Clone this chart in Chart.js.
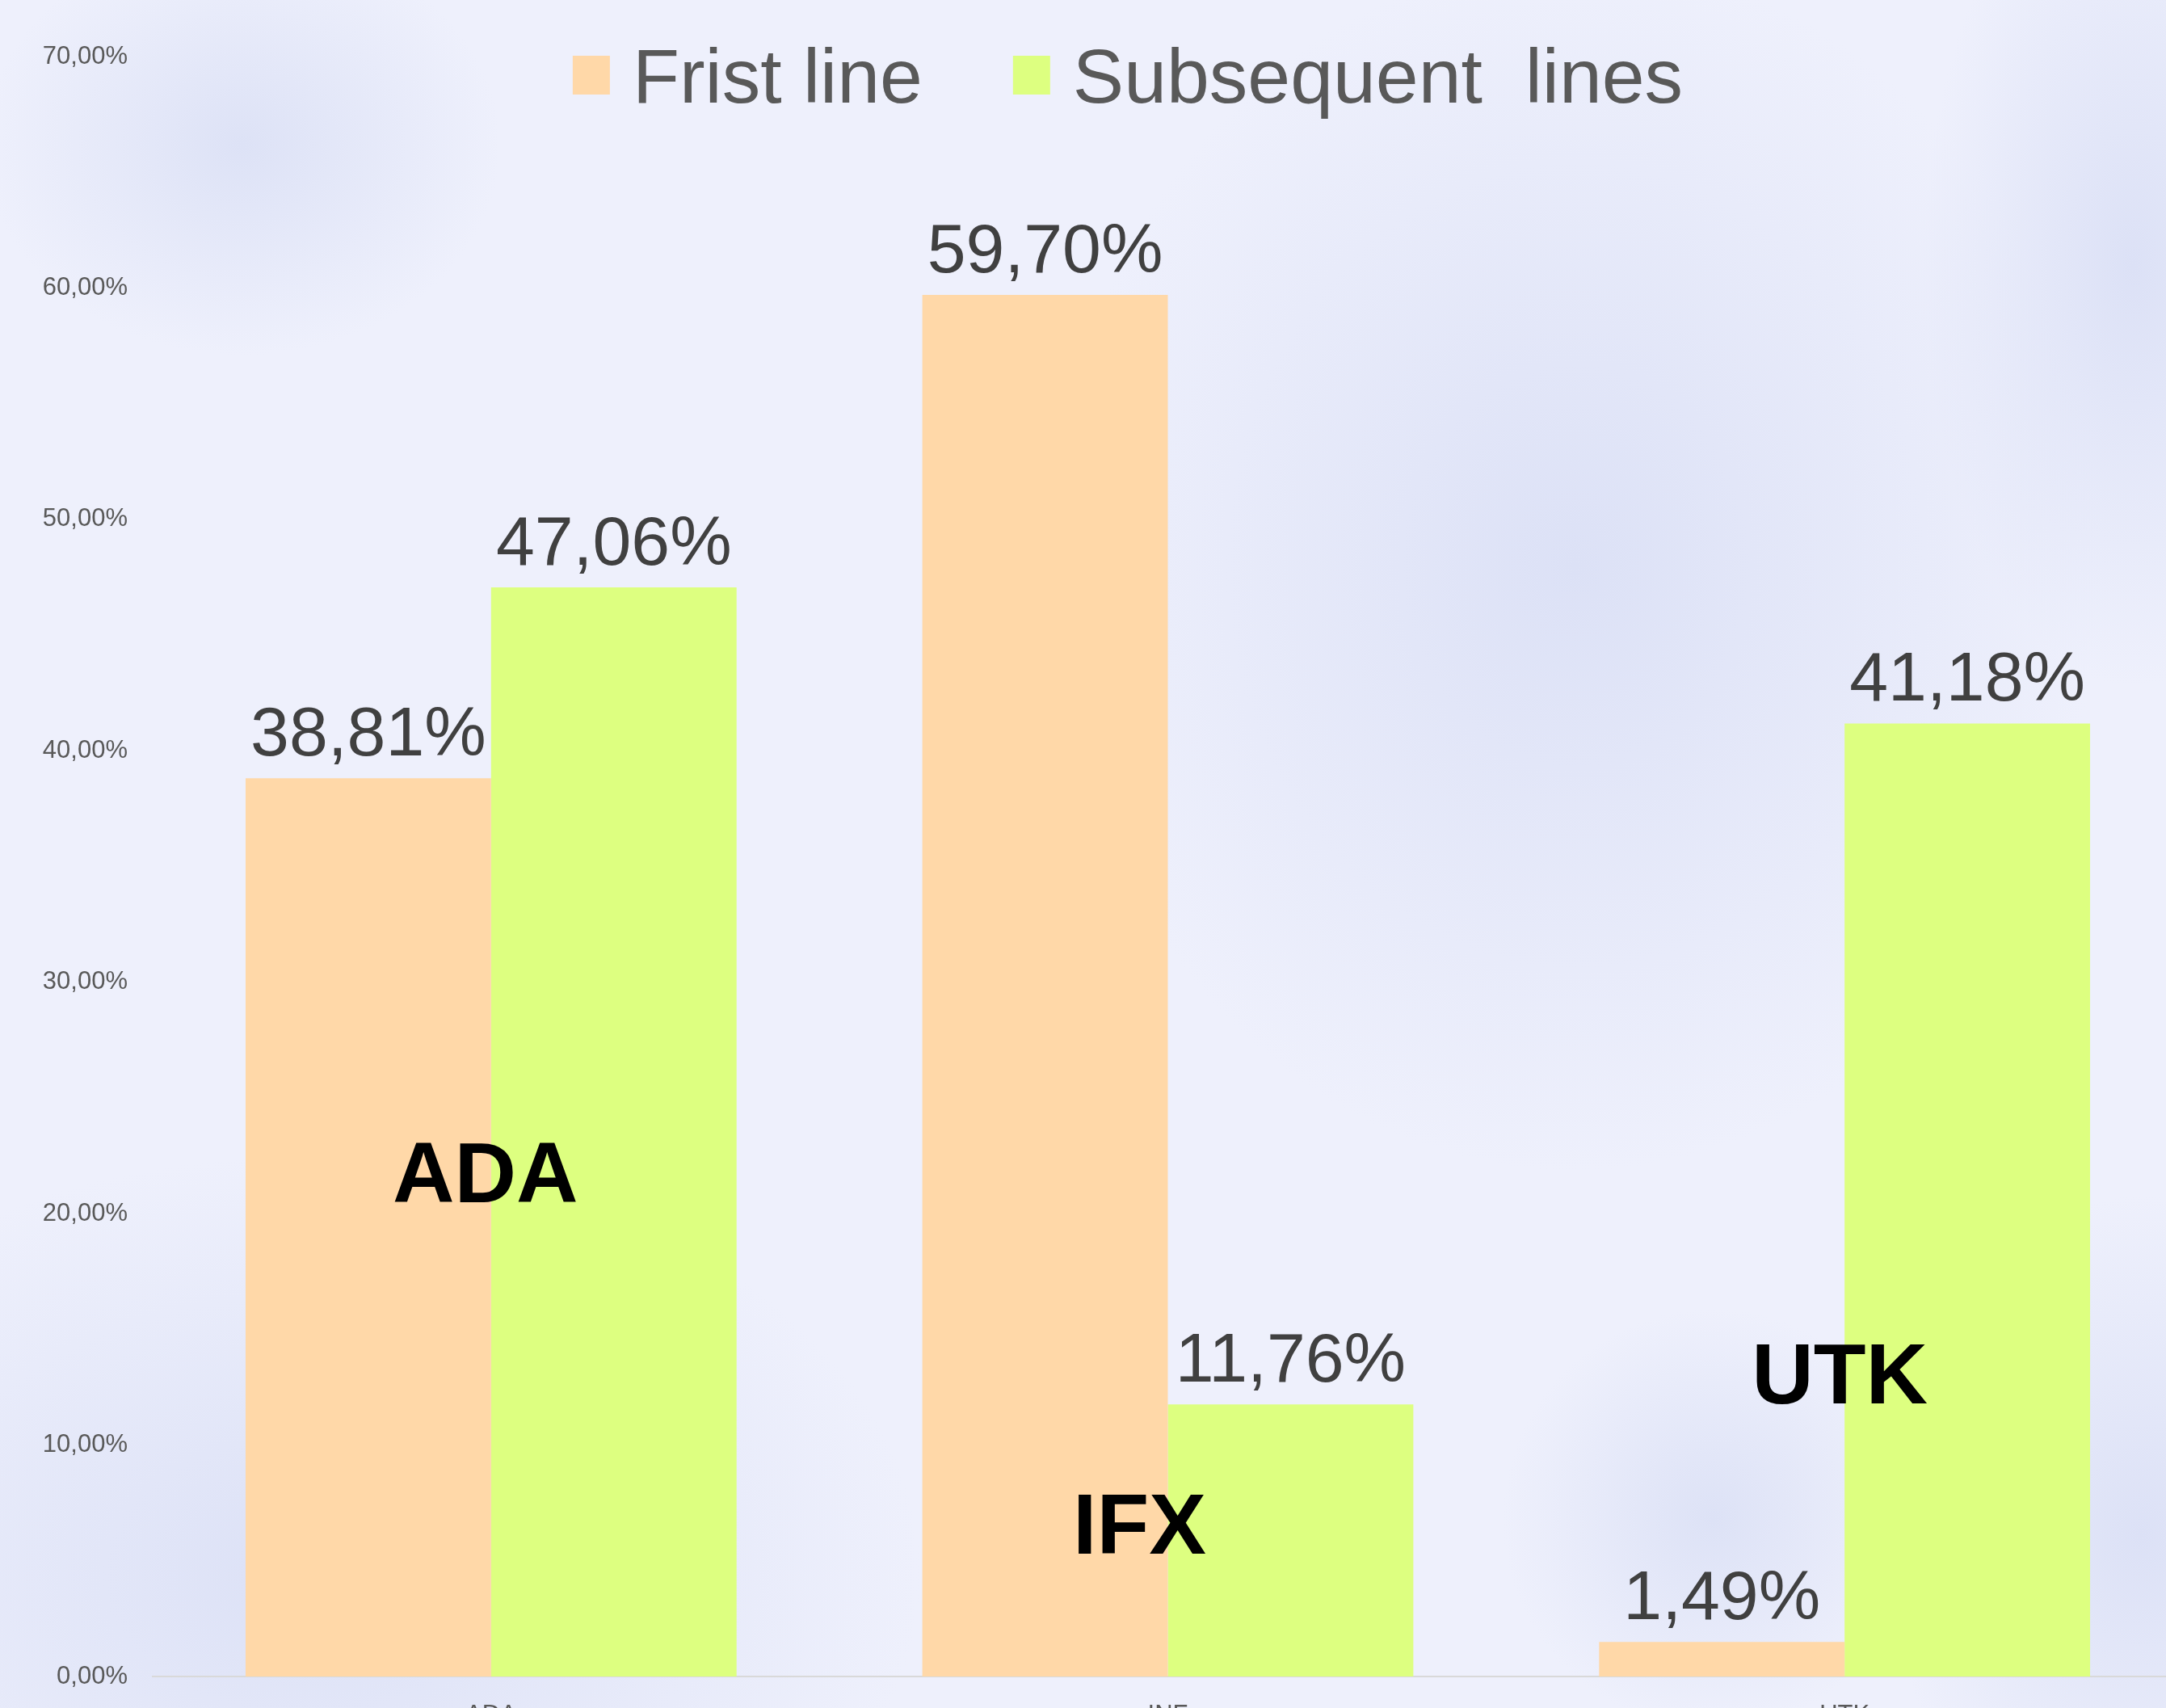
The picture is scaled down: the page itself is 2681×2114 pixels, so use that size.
<!DOCTYPE html>
<html>
<head>
<meta charset="utf-8">
<title>Frist line / Subsequent lines</title>
<script src="https://cdn.jsdelivr.net/npm/chart.js@4/dist/chart.umd.min.js"></script>
<style>
    html, body {
        margin: 0;
        padding: 0;
        width: 2681px;
        height: 2114px;
        overflow: hidden;
    }
    body {
        background:
            radial-gradient(ellipse 320px 260px at 300px 180px, #dde2f6, rgba(221,226,246,0)),
            radial-gradient(ellipse 650px 750px at 1950px 700px, #dce1f6, rgba(220,225,246,0)),
            radial-gradient(ellipse 260px 520px at 2640px 330px, #dce1f6, rgba(220,225,246,0)),
            radial-gradient(ellipse 760px 520px at 380px 1950px, #dce1f6, rgba(220,225,246,0)),
            radial-gradient(ellipse 320px 420px at 2650px 1900px, #dce1f6, rgba(220,225,246,0)),
            radial-gradient(ellipse 260px 260px at 2120px 1880px, #dde2f6, rgba(221,226,246,0)),
            #eef0fc;
    }
    canvas { display: block; }
</style>
</head>
<body>
<canvas id="chart" width="2702" height="2200"></canvas>
<script>
// 数据
const categories = ['ADA', 'INF', 'UTK'];
const seriesNames = ['Frist line', 'Subsequent  lines'];
const firstLine = [38.81, 59.70, 1.49];
const subsequentLines = [47.06, 11.76, 41.18];
const yTicks = [0, 10, 20, 30, 40, 50, 60, 70];
const tickerNames = ['ADA', 'IFX', 'UTK'];

const FONT = "'Liberation Sans', Arial, Helvetica, sans-serif";

const pct = v => v.toFixed(2).replace('.', ',') + '%';

// 顶部图例 (压在绘图区上方, 所以自己画)
const topLegend = {
    id: 'topLegend',
    afterDraw(chart, args, opts) {
        const ctx = chart.ctx;
        const datasets = chart.data.datasets;
        ctx.save();
        ctx.font = `${opts.size}px ${FONT}`;
        ctx.textBaseline = 'alphabetic';
        ctx.textAlign = 'left';

        const widths = datasets.map(ds => opts.box + opts.gap + ctx.measureText(ds.label).width);
        const total = widths.reduce((a, b) => a + b, 0) + opts.spacing * (datasets.length - 1);
        let x = opts.centerX - total / 2;

        datasets.forEach((ds, i) => {
            ctx.fillStyle = ds.backgroundColor;
            ctx.fillRect(x, opts.centerY - opts.box / 2, opts.box - 2, opts.box);
            ctx.fillStyle = opts.color;
            ctx.fillText(ds.label, x + opts.box + opts.gap, opts.centerY + opts.size * 0.36);
            x += widths[i] + opts.spacing;
        });
        ctx.restore();
    }
};

// 柱顶数值标签
const valueLabels = {
    id: 'valueLabels',
    afterDatasetsDraw(chart, args, opts) {
        const ctx = chart.ctx;
        ctx.save();
        ctx.font = `${opts.size}px ${FONT}`;
        ctx.fillStyle = opts.color;
        ctx.textAlign = 'center';
        ctx.textBaseline = 'alphabetic';
        chart.data.datasets.forEach((ds, i) => {
            chart.getDatasetMeta(i).data.forEach((bar, j) => {
                ctx.fillText(pct(ds.data[j]), bar.x, bar.y - opts.gap);
            });
        });
        ctx.restore();
    }
};

// 大号代码标注 (ADA / IFX / UTK)
const tickerLabels = {
    id: 'tickerLabels',
    afterDatasetsDraw(chart, args, opts) {
        const {ctx, scales} = chart;
        ctx.save();
        ctx.font = `bold ${opts.size}px ${FONT}`;
        ctx.fillStyle = opts.color;
        ctx.textAlign = 'center';
        ctx.textBaseline = 'alphabetic';
        tickerNames.forEach((name, i) => {
            const x = scales.x.getPixelForValue(i) + opts.shift[i];
            const y = scales.y.getPixelForValue(opts.level[i]);
            ctx.fillText(name, x, y);
        });
        ctx.restore();
    }
};

const chart = new Chart(document.getElementById('chart'), {
    type: 'bar',
    data: {
        labels: categories,
        datasets: [
            {
                label: seriesNames[0],
                data: firstLine,
                backgroundColor: '#ffd8a8',
                categoryPercentage: 0.7255,
                barPercentage: 1
            },
            {
                label: seriesNames[1],
                data: subsequentLines,
                backgroundColor: '#ddff80',
                categoryPercentage: 0.7255,
                barPercentage: 1
            }
        ]
    },
    options: {
        responsive: false,
        animation: false,
        layout: {
            padding: { top: 70, left: 0, right: 0, bottom: 0 }
        },
        plugins: {
            legend: { display: false },
            tooltip: { enabled: false },
            topLegend: {
                size: 95,
                color: '#595959',
                box: 48,
                gap: 26,
                spacing: 112,
                centerX: 1396,
                centerY: 93
            },
            valueLabels: { size: 86, color: '#404040', gap: 28 },
            tickerLabels: {
                size: 106,
                color: '#000000',
                level: [20.5, 5.3, 11.8],
                shift: [-7, -35, -6]
            }
        },
        scales: {
            x: {
                grid: { display: false },
                border: { display: true, color: '#d9d9d9', width: 2 },
                ticks: {
                    font: { family: FONT, size: 31 },
                    color: '#595959',
                    padding: 22
                },
                afterFit(scale) { scale.height = 125; }
            },
            y: {
                min: 0,
                max: 70,
                grid: { display: false, drawTicks: false },
                border: { display: false },
                ticks: {
                    font: { family: FONT, size: 31 },
                    color: '#595959',
                    padding: 31,
                    callback: v => pct(v)
                },
                afterBuildTicks(scale) {
                    scale.ticks = yTicks.map(v => ({ value: v }));
                },
                afterFit(scale) { scale.width = 189; }
            }
        }
    },
    plugins: [topLegend, valueLabels, tickerLabels]
});
</script>
</body>
</html>
